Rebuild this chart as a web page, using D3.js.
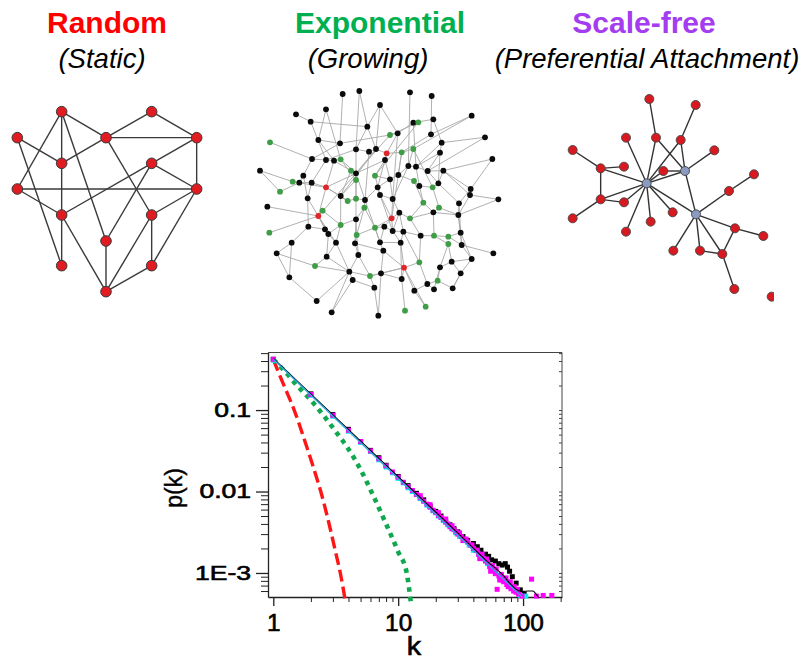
<!DOCTYPE html>
<html>
<head>
<meta charset="utf-8">
<script src="https://cdn.jsdelivr.net/npm/d3@7"></script>
<style>
  html, body { margin: 0; padding: 0; background: #fff; }
  svg { display: block; font-family: "Liberation Sans", Arial, sans-serif; }
</style>
</head>
<body>
<div class="figure"></div>
<script>
// panel headings
const titles = ["Random", "Exponential", "Scale-free"];
const subtitles = ["(Static)", "(Growing)", "(Preferential Attachment)"];

// random (static) graph, layout units
const randNodes = [[185,65],[455,65],[52,143],[318,143],[590,143],[185,220],[455,220],[52,297],
  [590,297],[185,375],[455,375],[318,453],[185,527],[455,527],[318,605]];
const randEdges = [[0,3],[0,5],[0,7],[0,11],[1,3],[1,4],[3,4],[2,5],[2,12],[3,5],[3,10],[4,6],[4,8],
  [6,8],[6,9],[6,11],[7,8],[7,9],[8,10],[8,13],[9,14],[10,13],[10,14],[11,14],[13,14],[5,9],[9,12]];

// exponential (growing) graph, layout units, k = black, g = green, r = red
const expNodes = [[278,42,"k"],[328,33,"k"],[480,37,"k"],[545,48,"k"],[390,75,"k"],[228,88,"k"],
  [138,103,"k"],[665,107,"k"],[182,125,"k"],[490,128,"k"],[505,127,"g"],[550,118,"k"],[352,140,"k"],
  [443,160,"k"],[420,165,"g"],[543,163,"k"],[705,172,"k"],[60,187,"g"],[205,180,"k"],[270,190,"k"],
  [575,188,"k"],[490,207,"g"],[318,208,"k"],[357,215,"k"],[378,207,"k"],[410,220,"r"],[455,217,"g"],
  [570,218,"k"],[186,237,"k"],[228,240,"k"],[252,242,"k"],[272,238,"g"],[405,240,"k"],[727,237,"k"],
  [303,272,"g"],[475,258,"k"],[498,260,"k"],[30,272,"k"],[160,287,"k"],[318,280,"k"],[375,287,"g"],
  [445,285,"k"],[533,273,"k"],[580,272,"k"],[128,305,"g"],[148,308,"k"],[185,308,"k"],[318,300,"g"],
  [420,298,"k"],[492,303,"g"],[508,318,"k"],[228,322,"r"],[383,322,"k"],[565,310,"k"],[548,322,"g"],
  [90,335,"g"],[662,327,"k"],[272,348,"k"],[293,363,"g"],[318,356,"g"],[345,360,"k"],[390,345,"k"],
  [428,357,"k"],[173,355,"k"],[660,345,"k"],[745,358,"k"],[52,380,"k"],[520,368,"g"],[567,383,"g"],
  [343,383,"g"],[627,370,"k"],[218,392,"g"],[205,408,"r"],[425,415,"r"],[448,398,"k"],[480,415,"g"],
  [550,397,"k"],[625,405,"k"],[175,440,"k"],[272,435,"g"],[375,443,"g"],[403,440,"k"],[318,418,"k"],
  [58,458,"g"],[225,448,"k"],[235,462,"k"],[320,465,"g"],[428,453,"k"],[460,455,"k"],[512,467,"k"],
  [552,467,"g"],[595,470,"g"],[632,458,"k"],[125,488,"k"],[258,488,"k"],[315,490,"k"],[390,487,"k"],
  [452,488,"k"],[595,492,"g"],[635,495,"k"],[80,520,"k"],[400,512,"k"],[325,525,"k"],[230,530,"k"],
  [730,520,"k"],[665,537,"k"],[605,545,"k"],[508,547,"g"],[195,558,"g"],[298,575,"k"],[462,563,"r"],
  [570,562,"k"],[360,588,"g"],[393,580,"k"],[118,592,"k"],[455,597,"k"],[308,600,"k"],[632,580,"k"],
  [563,602,"g"],[532,612,"k"],[493,632,"k"],[552,628,"k"],[608,625,"k"],[373,623,"k"],[200,663,"k"],
  [465,692,"g"],[527,680,"g"],[245,697,"k"],[385,707,"k"]];
const expEdges = [[1,22],[0,19],[2,35],[3,15],[4,24],[4,12],[5,31],[6,8],[8,12],[8,29],[7,21],[10,14],
  [9,13],[10,40],[11,20],[12,24],[14,19],[14,13],[16,20],[16,42],[17,28],[18,30],[20,27],[20,36],
  [21,26],[21,35],[22,23],[22,39],[22,29],[23,24],[24,25],[25,26],[25,32],[25,52],[25,13],[27,42],
  [27,36],[28,38],[28,29],[29,30],[30,31],[30,34],[31,47],[32,48],[32,40],[33,43],[34,39],[34,57],
  [35,41],[35,36],[36,42],[36,50],[37,44],[37,55],[38,45],[38,63],[39,47],[39,60],[39,24],[40,48],
  [40,61],[41,48],[41,49],[42,43],[42,53],[43,56],[43,53],[44,45],[44,51],[45,46],[46,51],[46,63],
  [47,59],[47,57],[48,62],[48,52],[49,50],[49,67],[50,54],[50,67],[51,72],[51,57],[51,30],[51,58],
  [52,61],[52,60],[53,54],[53,70],[54,68],[55,45],[56,64],[56,70],[57,58],[58,59],[59,60],[60,69],
  [61,62],[61,73],[62,74],[63,72],[63,78],[64,65],[64,77],[66,72],[67,76],[67,75],[68,77],[68,76],
  [69,80],[69,82],[70,77],[70,92],[71,72],[71,79],[72,84],[72,85],[72,94],[72,83],[73,74],[73,81],
  [73,87],[73,80],[73,62],[74,75],[74,88],[75,89],[75,76],[76,90],[76,77],[77,92],[77,99],[78,93],
  [78,84],[79,82],[79,94],[79,85],[80,81],[80,86],[81,96],[81,87],[82,86],[82,95],[84,85],[85,103],
  [85,94],[86,95],[86,102],[87,97],[87,88],[88,89],[88,97],[89,90],[89,107],[90,91],[90,98],[91,92],
  [91,99],[92,99],[92,105],[93,100],[93,114],[94,103],[94,109],[95,102],[95,101],[96,101],[96,97],
  [97,110],[98,106],[98,111],[99,104],[99,105],[100,114],[101,113],[101,110],[102,109],[102,112],
  [103,108],[103,109],[105,106],[105,117],[106,111],[106,117],[107,110],[107,119],[108,109],
  [109,116],[109,124],[109,127],[109,112],[110,115],[110,120],[110,126],[110,112],[110,113],
  [111,118],[111,121],[112,113],[112,123],[113,128],[113,115],[115,125],[116,123],[117,122],
  [118,119],[118,122],[119,120],[119,121],[120,126],[14,72],[26,73],[32,51],[24,57],[13,62],[9,36],
  [21,54],[12,22],[19,28],[15,26],[47,82],[60,96],[61,87],[23,60],[35,62],[26,41],[31,39],[18,19],
  [5,18],[11,9],[27,53],[43,64],[29,46],[57,79],[69,86],[80,96],[87,74],[88,107],[97,115],[100,108],
  [114,124],[116,127],[123,128],[122,117],[65,77],[33,56],[7,15],[4,13],[1,12]];

// scale-free graph, layout units, h = hub
const sfNodes = [[290,295,"h"],[405,258,"h"],[438,388,"h"],[298,42,"n"],[437,60,"n"],[228,158,"n"],
  [318,158,"n"],[392,165,"n"],[493,196,"n"],[68,195,"n"],[152,250,"n"],[222,245,"n"],[340,258,"n"],
  [612,268,"n"],[537,318,"n"],[152,343,"n"],[222,352,"n"],[68,400,"n"],[368,382,"n"],[302,410,"n"],
  [228,440,"n"],[555,430,"n"],[640,453,"n"],[370,497,"n"],[450,497,"n"],[517,507,"n"],[553,612,"n"],
  [665,635,"n"]];
const sfEdges = [[3,6],[6,0],[6,1],[4,7],[7,1],[7,0],[5,0],[8,1],[9,10],[10,11],[10,0],[10,15],
  [12,0],[12,1],[0,1],[15,0],[15,16],[15,17],[16,0],[0,19],[0,20],[0,18],[0,2],[1,2],[14,2],[14,13],
  [21,2],[21,22],[21,25],[23,2],[24,2],[24,25],[2,25],[25,26]];

// degree distribution p(k)
const poissonK = [1, 1.2, 1.47, 1.78, 2.09, 2.4, 2.82, 3.16, 3.44, 3.76];
const poissonP = [0.417, 0.211, 0.1, 0.0427, 0.02, 0.01, 0.0038, 0.00178, 0.001, 0.00047];
const expK = [1, 1.26, 1.55, 2.0, 2.51, 3.16, 3.98, 5.01, 6.31, 7.94, 10, 11.7, 12.6];
const expP = [0.417, 0.29, 0.2, 0.132, 0.087, 0.0545, 0.0335, 0.0185, 0.0089, 0.0041, 0.00182, 0.001, 0.00045];
const fitK = [1, 98];
const fitP = [0.42, 0.00051];
const simLineK = [1, 10, 30, 50, 70, 80, 91, 100, 110, 120, 127, 133];
const simLineP = [0.43, 0.0152, 0.0031, 0.00145, 0.00092, 0.00072, 0.00061, 0.000595, 0.0006, 0.0006, 0.00055, 0.0005];
const blackK = [1,2,3,4,5,6,7,8,10,12,14,16,18,20,22,24,26,28,30,33,36,40,43,46,50,53,56,60,64,68,72,75,78,82,88,95,102];
const blackP = [0.42,0.158,0.088,0.058,0.041,0.032,0.026,0.021,0.0153,0.0118,0.0095,0.0079,0.0066,0.0057,
  0.005,0.0044,0.0039,0.0035,0.0032,0.0028,0.0025,0.0023,0.0021,0.0019,0.0017,0.0016,0.00145,0.0014,
  0.0013,0.00125,0.0013,0.00118,0.00105,0.0009,0.00075,0.00062,0.00055];
const cyanK = [1,2,3,4,5,6,7,8,9,10,11,12,13,15,17,19,21,23,25,27,29,31,34,37,40,44,48,52,56,60,65,70,75,80,87,95,105];
const cyanP = [0.41,0.152,0.084,0.055,0.04,0.031,0.0245,0.02,0.017,0.0145,0.0128,0.0111,0.01,0.0082,0.0068,
  0.0058,0.005,0.0044,0.0039,0.0035,0.0031,0.0028,0.0025,0.0022,0.0019,0.0017,0.0015,0.0013,0.00115,
  0.00105,0.00094,0.00082,0.00076,0.00068,0.0006,0.00053,0.00052];
const magentaK = [1,2,3,4,5,6,7,8,9,10,11,12,13,14,15,16,17,18,19,20,21,22,23,24,25,26,27,28,29,30,32,33,
  34,36,38,40,42,44,45,46,48,50,52,54,55,56,58,60,62,64,65,66,68,70,72,74,76,78,80,84,88,92,98,117,128,145,170,
  15,18,21,24,27,31,35,39,43,47,51,57,61,67,73,79,85,90];
const magentaP = [0.42,0.155,0.086,0.0565,0.041,0.0315,0.0252,0.0207,0.0174,0.015,0.013,0.0115,0.0103,
  0.0092,0.0084,0.0076,0.007,0.0064,0.0059,0.0055,0.0051,0.0048,0.0045,0.0042,0.004,0.0037,0.0035,
  0.0034,0.0032,0.003,0.0028,0.0025,0.0026,0.0024,0.0022,0.002,0.0019,0.0017,0.0015,0.0016,0.0015,
  0.0014,0.00135,0.0012,0.00105,0.00115,0.0011,0.00098,0.00063,0.00092,0.00082,0.00088,0.00082,
  0.00078,0.00085,0.00072,0.00068,0.00075,0.00064,0.0006,0.00058,0.00055,0.00052,0.00084,0.00052,
  0.00053,0.00053,
  0.0089,0.0069,0.0055,0.0046,0.0038,0.0031,0.0026,0.0022,0.0019,0.0017,0.00148,0.00123,0.00112,
  0.00096,0.00087,0.00078,0.00068,0.00063];
const xTickVals = [1, 10, 100];
const xTickLabels = ["1", "10", "100"];
const yTickVals = [0.1, 0.01, 0.001];
const yTickLabels = ["0.1", "0.01", "1E-3"];

const width = 811, height = 660;
const svg = d3.select(".figure").append("svg")
  .attr("width", width)
  .attr("height", height);

function stretch(sel, f) {
  sel.each(function () {
    const w = this.getComputedTextLength();
    d3.select(this).attr("textLength", w * f).attr("lengthAdjust", "spacingAndGlyphs");
  });
}

// headings
const titleColors = ["#ff0000", "#00b050", "#a43df0"];
const titleX = [107, 380, 644];
const subX = [102, 368, 647];
svg.selectAll("text.title").data(titles).enter().append("text")
  .attr("class", "title")
  .attr("x", (d, i) => titleX[i]).attr("y", 33)
  .attr("text-anchor", "middle")
  .attr("font-size", 30).attr("font-weight", "bold")
  .attr("fill", (d, i) => titleColors[i])
  .text(d => d);
svg.selectAll("text.sub").data(subtitles).enter().append("text")
  .attr("class", "sub")
  .attr("x", (d, i) => subX[i]).attr("y", 68)
  .attr("text-anchor", "middle")
  .attr("font-size", 27.5).attr("font-style", "italic")
  .attr("fill", "#000")
  .text(d => d);

// networks
svg.append("clipPath").attr("id", "sf-clip")
  .append("rect").attr("x", 540).attr("y", 80).attr("width", 234).attr("height", 230);

function drawNetwork(ox, oy, nodes, edges, o) {
  const sx = d3.scaleLinear().domain([0, 300]).range([ox, ox + 100]);
  const sy = d3.scaleLinear().domain([0, 300]).range([oy, oy + 100]);
  const g = svg.append("g").attr("clip-path", o.clip || null);
  g.selectAll("line").data(edges).enter().append("line")
    .attr("x1", d => sx(nodes[d[0]][0])).attr("y1", d => sy(nodes[d[0]][1]))
    .attr("x2", d => sx(nodes[d[1]][0])).attr("y2", d => sy(nodes[d[1]][1]))
    .attr("stroke", o.edge).attr("stroke-width", o.edgeW);
  g.selectAll("circle").data(nodes).enter().append("circle")
    .attr("cx", d => sx(d[0])).attr("cy", d => sy(d[1]))
    .attr("r", o.r)
    .attr("fill", d => o.fill(d))
    .attr("stroke", o.stroke).attr("stroke-width", o.strokeW);
}

drawNetwork(0, 90, randNodes, randEdges, {
  edge: "#3a3a3a", edgeW: 1.4, r: 5.3, fill: () => "#e01b22", stroke: "#3a3a3a", strokeW: 1
});
const expColors = { k: "#0b0b0b", g: "#3f9d47", r: "#e0262a" };
drawNetwork(250, 80, expNodes, expEdges, {
  edge: "#a8a8a8", edgeW: 0.9, r: 2.9, fill: d => expColors[d[2]], stroke: "none", strokeW: 0
});
drawNetwork(550, 85, sfNodes, sfEdges, {
  edge: "#333", edgeW: 1.4, r: 4.5, fill: d => d[2] === "h" ? "#8a9ac2" : "#d8191f", stroke: "#444", strokeW: 0.9,
  clip: "url(#sf-clip)"
});

// degree distribution chart
const x = d3.scaleLog().domain([0.907, 205]).range([268, 562]);
const y = d3.scaleLog().domain([5.07e-4, 0.509]).range([597, 352.5]);
const [x0, x1] = x.range();
const [y0, y1] = y.range();

const chart = svg.append("g");

// frame top & right
chart.append("path")
  .attr("d", `M${x0},${y1}H${x1}V${y0}`)
  .attr("fill", "none").attr("stroke", "#444").attr("stroke-width", 1);

const xMinor = x.ticks().filter(t => !xTickVals.includes(t));
const yMinor = y.ticks().filter(t => !yTickVals.some(v => Math.abs(v - t) / v < 1e-6));

// right inward ticks
chart.append("g").attr("transform", `translate(${x1},0)`)
  .call(d3.axisLeft(y).tickValues(y.ticks()).tickSize(3).tickSizeOuter(0).tickFormat(""))
  .call(g => g.select(".domain").remove())
  .call(g => g.selectAll("line").attr("stroke", "#444"));

// left axis
chart.append("g").attr("transform", `translate(${x0},0)`)
  .call(d3.axisLeft(y).tickValues(yMinor).tickSize(7).tickSizeOuter(0).tickFormat(""))
  .call(g => g.selectAll("line").attr("stroke", "#222"))
  .call(g => g.select(".domain").attr("stroke", "#222").attr("stroke-width", 1.3));
const yAxis = chart.append("g").attr("transform", `translate(${x0},0)`)
  .call(d3.axisLeft(y).tickValues(yTickVals).tickSize(12).tickPadding(5).tickSizeOuter(0)
    .tickFormat((d, i) => yTickLabels[i]))
  .call(g => g.select(".domain").remove())
  .call(g => g.selectAll("line").attr("stroke", "#222").attr("stroke-width", 1.3));
yAxis.selectAll("text").attr("font-size", 19.5).attr("font-family", "Liberation Sans, Arial, sans-serif")
  .attr("fill", "#000").attr("stroke", "#000").attr("stroke-width", 0.6)
  .call(stretch, 1.36);

// bottom axis
chart.append("g").attr("transform", `translate(0,${y0})`)
  .call(d3.axisBottom(x).tickValues(xMinor).tickSize(5).tickSizeOuter(0).tickFormat(""))
  .call(g => g.selectAll("line").attr("stroke", "#222"))
  .call(g => g.select(".domain").attr("stroke", "#222").attr("stroke-width", 1.3));
const xAxis = chart.append("g").attr("transform", `translate(0,${y0})`)
  .call(d3.axisBottom(x).tickValues(xTickVals).tickSize(9).tickPadding(9).tickSizeOuter(0)
    .tickFormat((d, i) => xTickLabels[i]))
  .call(g => g.select(".domain").remove())
  .call(g => g.selectAll("line").attr("stroke", "#222").attr("stroke-width", 1.3));
xAxis.selectAll("text").attr("font-size", 23).attr("font-family", "Liberation Sans, Arial, sans-serif")
  .attr("fill", "#000").attr("stroke", "#000").attr("stroke-width", 0.6)
  .call(stretch, 1.06);

// axis titles
chart.append("text")
  .attr("x", 414).attr("y", 655)
  .attr("text-anchor", "middle").attr("font-size", 25).attr("fill", "#000")
  .attr("stroke", "#000").attr("stroke-width", 0.6)
  .text("k").call(stretch, 1.15);
chart.append("text")
  .attr("transform", "translate(182,488) rotate(-90)")
  .attr("text-anchor", "middle").attr("font-size", 23).attr("fill", "#000")
  .attr("stroke", "#000").attr("stroke-width", 0.4)
  .text("p(k)");

const line = d3.line().x(d => x(d[0])).y(d => y(d[1])).curve(d3.curveMonotoneX);
const zip = (ks, ps) => ks.map((k, i) => [k, ps[i]]);

// poisson (random) – red dashes
chart.append("path").datum(zip(poissonK, poissonP))
  .attr("d", line).attr("fill", "none")
  .attr("stroke", "#ff1515").attr("stroke-width", 3.4).attr("stroke-dasharray", "12,5");
// exponential – green square dots
chart.append("path").datum(zip(expK, expP))
  .attr("d", line).attr("fill", "none")
  .attr("stroke", "#10a84e").attr("stroke-width", 4.6).attr("stroke-dasharray", "4.6,5");

// simulation squares
const sq = 5;
function squares(ks, ps, color) {
  chart.append("g").selectAll("rect").data(zip(ks, ps)).enter().append("rect")
    .attr("x", d => x(d[0]) - sq / 2).attr("y", d => y(d[1]) - sq / 2)
    .attr("width", sq).attr("height", sq).attr("fill", color);
}
squares(blackK, blackP, "#000");
squares(cyanK, cyanP, "#00f0f0");
squares(magentaK, magentaP, "#ff00ff");

// black simulation curve and power-law fit
chart.append("path").datum(zip(simLineK, simLineP))
  .attr("d", line).attr("fill", "none").attr("stroke", "#000").attr("stroke-width", 1.1);
chart.append("path").datum(zip(fitK, fitP))
  .attr("d", d3.line().x(d => x(d[0])).y(d => y(d[1])))
  .attr("fill", "none").attr("stroke", "#2aa8e0").attr("stroke-width", 1.4);
</script>
</body>
</html>
